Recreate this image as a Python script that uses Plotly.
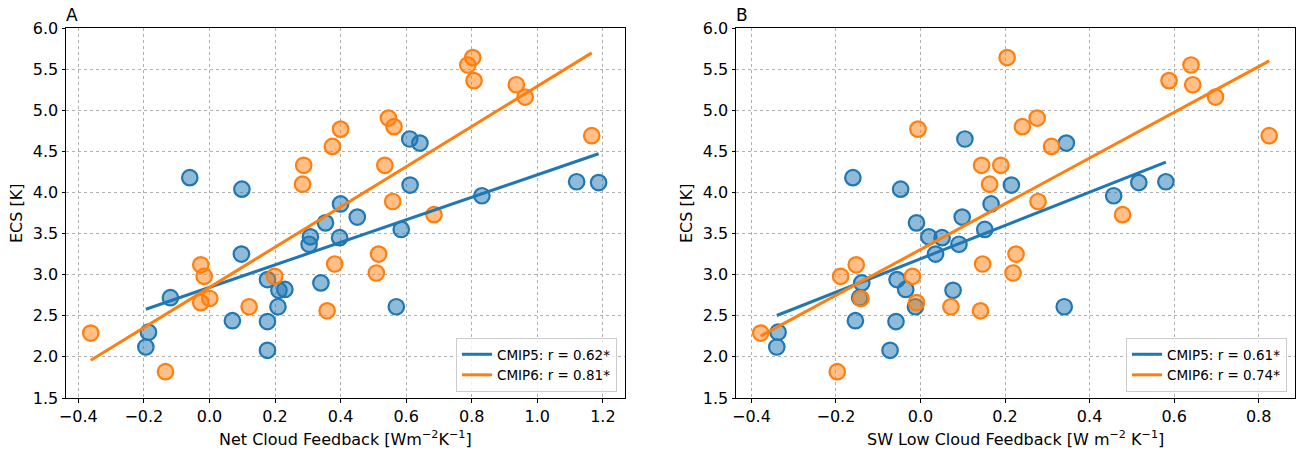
import numpy as np
import plotly.graph_objects as go

# CMIP5 models: ECS, net cloud feedback, SW low cloud feedback
ecs5 = [4.18, 4.04, 4.65, 4.60, 4.13, 4.12, 3.96, 4.09, 3.86, 3.70, 3.63, 3.46, 3.37, 3.45,
        3.25, 2.94, 2.81, 2.82, 2.90, 2.72, 2.61, 2.61, 2.44, 2.43, 2.30, 2.12, 2.08, 3.55]
net5 = [-0.060, 0.099, 0.611, 0.642, 1.120, 1.187, 0.831, 0.612, 0.400, 0.451, 0.354, 0.308, 0.304, 0.397,
        0.0975, 0.177, 0.212, 0.230, 0.340, -0.119, 0.209, 0.570, 0.070, 0.177, -0.186, -0.194, 0.177, 0.585]
sw5 = [-0.160, -0.047, 0.105, 0.345, 0.5805, 0.5165, 0.457, 0.215, 0.167, 0.0986, -0.0095, 0.0197, 0.091, 0.051,
       0.0355, -0.0555, 0.077, -0.035, -0.139, -0.144, -0.012, 0.340, -0.154, -0.058, -0.337, -0.340, -0.072, 0.152]

# CMIP6 models
ecs6 = [5.64, 5.55, 5.36, 5.31, 5.16, 4.905, 4.80, 4.77, 4.69, 4.56, 4.33, 4.33, 4.10, 3.89,
        3.73, 3.25, 3.13, 3.12, 3.02, 2.98, 2.98, 2.71, 2.66, 2.61, 2.56, 2.29, 1.82]
net6 = [0.803, 0.788, 0.807, 0.936, 0.963, 0.546, 0.563, 0.400, 1.166, 0.375, 0.2875, 0.535, 0.284, 0.559,
        0.685, 0.516, 0.382, -0.0265, 0.509, -0.016, 0.199, 0.001, -0.0265, 0.121, 0.359, -0.362, -0.134]
sw6 = [0.205, 0.640, 0.588, 0.644, 0.698, 0.276, 0.241, -0.006, 0.825, 0.310, 0.1445, 0.190, 0.1635, 0.278,
       0.478, 0.226, 0.147, -0.152, 0.219, -0.189, -0.019, -0.141, -0.0095, 0.072, 0.142, -0.378, -0.197]

legend_a = ["CMIP5: r = 0.62*", "CMIP6: r = 0.81*"]
legend_b = ["CMIP5: r = 0.61*", "CMIP6: r = 0.74*"]
panel_labels = ["A", "B"]
xlabels = ["Net Cloud Feedback [Wm<sup>−2</sup>K<sup>−1</sup>]", "SW Low Cloud Feedback [W m<sup>−2</sup> K<sup>−1</sup>]"]
ylabel = "ECS [K]"
xticks_a = [-0.4, -0.2, 0, 0.2, 0.4, 0.6, 0.8, 1.0, 1.2]
xticks_b = [-0.4, -0.2, 0, 0.2, 0.4, 0.6, 0.8]
yticks = [1.5, 2, 2.5, 3, 3.5, 4, 4.5, 5, 5.5, 6]

BLUE = "#1f77b4"
ORANGE = "#ff7f0e"
BLUE_F = "rgba(31,119,180,0.5)"
ORANGE_F = "rgba(255,127,14,0.5)"
FONT = "DejaVu Sans"


def fmt(v):
    s = f"{v:.1f}"
    return s.replace("-", "−")


fig = go.Figure()

panels = [(net5, net6, legend_a, "x", "y", "legend"), (sw5, sw6, legend_b, "x2", "y2", "legend2")]
for (x5, x6, labs, xa, ya, lg) in panels:
    for xs, ys, fc, ec in [(x5, ecs5, BLUE_F, BLUE), (x6, ecs6, ORANGE_F, ORANGE)]:
        fig.add_trace(go.Scatter(x=xs, y=ys, mode="markers", xaxis=xa, yaxis=ya,
                                 marker=dict(size=15.5, color=fc, line=dict(color=ec, width=2.2)),
                                 showlegend=False, hoverinfo="skip"))
    for xs, ys, col, lab in [(x5, ecs5, BLUE, labs[0]), (x6, ecs6, ORANGE, labs[1])]:
        xs_a = np.array(xs); ys_a = np.array(ys)
        m, b = np.polyfit(xs_a, ys_a, 1)
        xl = np.array([xs_a.min(), xs_a.max()])
        fig.add_trace(go.Scatter(x=xl, y=m * xl + b, mode="lines", xaxis=xa, yaxis=ya,
                                 line=dict(color=col, width=3), name=lab, legend=lg))

axis_common = dict(showline=True, mirror=True, linecolor="black", linewidth=1,
                   ticks="outside", ticklen=3.5, tickcolor="black",
                   showgrid=True, gridcolor="#b0b0b0", griddash="3px,3px", gridwidth=1,
                   zeroline=False, tickfont=dict(family=FONT, size=16, color="black"))

W, H = 1301, 452
ml, mr, mt, mb = 66, 6, 28, 54
pw = W - ml - mr
ph = H - mt - mb
d1 = [0, (625 - ml) / pw]
d2 = [(736 - ml) / pw, 1]

fig.update_layout(
    width=W, height=H, paper_bgcolor="white", plot_bgcolor="white",
    margin=dict(l=ml, r=mr, t=mt, b=mb),
    font=dict(family=FONT, size=16, color="black"),
    xaxis=dict(domain=d1, range=[-0.4375, 1.2675], tickvals=xticks_a,
               ticktext=[fmt(v) for v in xticks_a], **axis_common),
    yaxis=dict(domain=[0, 1], range=[1.5, 6.0], tickvals=yticks,
               ticktext=[fmt(v) for v in yticks], **axis_common),
    xaxis2=dict(domain=d2, anchor="y2", range=[-0.4365, 0.886], tickvals=xticks_b,
                ticktext=[fmt(v) for v in xticks_b], **axis_common),
    yaxis2=dict(domain=[0, 1], anchor="x2", range=[1.5, 6.0], tickvals=yticks,
                ticktext=[fmt(v) for v in yticks], **axis_common),
    legend=dict(x=(617 - ml) / pw, xanchor="right", y=(398 - 392) / ph, yanchor="bottom",
                bgcolor="rgba(255,255,255,0.8)", bordercolor="#cccccc", borderwidth=1,
                font=dict(family=FONT, size=13.5), itemwidth=30, tracegroupgap=0),
    legend2=dict(x=(1287 - ml) / pw, xanchor="right", y=(398 - 392) / ph, yanchor="bottom",
                 bgcolor="rgba(255,255,255,0.8)", bordercolor="#cccccc", borderwidth=1,
                 font=dict(family=FONT, size=13.5), itemwidth=30, tracegroupgap=0),
)

for i, xr in enumerate(["x domain", "x2 domain"]):
    fig.add_annotation(text=panel_labels[i], xref=xr, yref="paper", x=0, y=1, xanchor="left",
                       yanchor="bottom", showarrow=False, font=dict(family=FONT, size=17, color="black"),
                       xshift=-2, yshift=1)
    fig.add_annotation(text=xlabels[i], xref=xr, yref="paper", x=0.5, y=-(438 - 398) / ph,
                       xanchor="center", yanchor="middle", showarrow=False,
                       font=dict(family=FONT, size=16, color="black"))
    fig.add_annotation(text=ylabel, xref=xr, yref="paper", x=0, y=0.5, xanchor="center",
                       yanchor="middle", textangle=-90, xshift=-50, showarrow=False,
                       font=dict(family=FONT, size=16, color="black"))

fig.write_html("out.html", config={"displayModeBar": False},
               post_script="document.body.style.margin='0';document.body.style.overflow='hidden';")
